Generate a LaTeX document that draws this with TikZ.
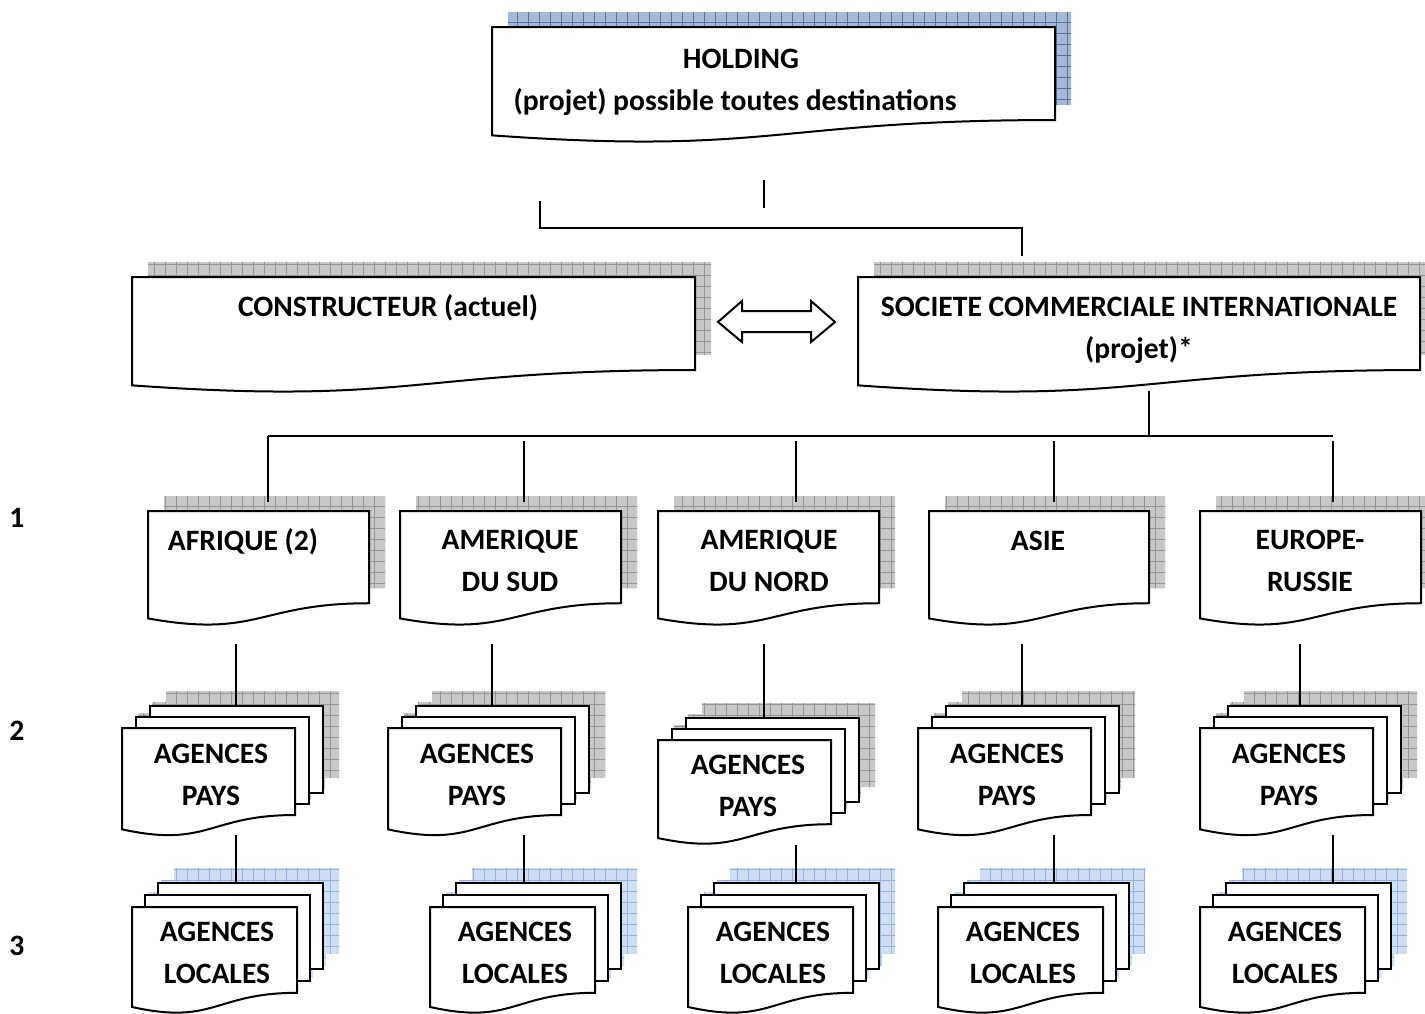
\documentclass[tikz,border=0pt]{standalone}
\usepackage{fontspec}
\setmainfont{Carlito}
\definecolor{shgrey}{RGB}{200,200,200}
\definecolor{shgreyl}{RGB}{150,150,150}
\definecolor{shblue}{RGB}{165,185,215}
\definecolor{shbluel}{RGB}{85,115,165}
\definecolor{shlblue}{RGB}{208,222,243}
\definecolor{shlbluel}{RGB}{150,178,222}
\newcommand\docpath[4]{(#1,#2) -- ({#1+#3},#2) -- ({#1+#3},{#2+0.802*#4}) .. controls ({#1+0.5*#3},{#2+0.802*#4}) and ({#1+0.5*#3},{#2+1.1075*#4}) .. (#1,{#2+0.934*#4}) -- cycle}
\newcommand\boxpath[4]{(#1,#2) -- ({#1+#3},#2) -- ({#1+#3},{#2+#4}) -- (#1,{#2+#4}) -- cycle}
% single document shape with shadow: L T W H shadowcolour
\newcommand\singledoc[5]{%
  \begin{scope}
    \clip[shift={(16,-15)}] \docpath{#1}{#2}{#3}{#4};
    \fill[#5] (#1,#2-20) rectangle (#1+#3+20,#2+#4);
    \draw[#5l, line width=0.5pt, step=5.5pt] (#1,#2-20) grid (#1+#3+20,#2+#4);
  \end{scope}
  \draw[docline] \docpath{#1}{#2}{#3}{#4};
}
% multi document: L T W H dx dy shadowcolour
\newcommand\multidoc[7]{%
  \begin{scope}
    \clip[shift={(16,-15)}] \docpath{#1}{#2}{#3}{#4} \boxpath{#1+#5}{#2-#6}{#3}{0.802*#4} \boxpath{#1+2*#5}{#2-2*#6}{#3}{0.802*#4};
    \fill[#7] (#1,#2-50) rectangle (#1+#3+60,#2+#4);
    \draw[#7l, line width=0.5pt, step=5.5pt] (#1,#2-50) grid (#1+#3+60,#2+#4);
  \end{scope}
  \draw[docline] \boxpath{#1+2*#5}{#2-2*#6}{#3}{0.802*#4};
  \draw[docline] \boxpath{#1+#5}{#2-#6}{#3}{0.802*#4};
  \draw[docline] \docpath{#1}{#2}{#3}{#4};
}
\tikzset{
  docline/.style={draw=black, fill=white, line width=1pt},
  conn/.style={draw=black, line width=1pt},
  txt/.style={font=\fontsize{14.8}{21}\selectfont\bfseries, align=center, inner sep=0pt},
}
\begin{document}
\begin{tikzpicture}[x=0.5pt,y=-0.5pt]
\useasboundingbox[fill=white] (0,0) rectangle (1425,1013);

% ---- top level
\singledoc{492}{27}{563}{116}{shblue}
\node[txt] (hold) at (735,82) {\hspace*{6pt}HOLDING\\(projet) possible toutes destinations};

\singledoc{132}{277}{563}{116}{shgrey}
\node[txt] (constr) at (388,308) {CONSTRUCTEUR (actuel)};

\singledoc{858}{277}{562}{116}{shgrey}
\node[txt] (soc) at (1139,330) {SOCIETE COMMERCIALE INTERNATIONALE\\(projet)*};

% double arrow
\draw[docline] (718,322) -- (742,301) -- (742,311) -- (811,311) -- (811,301) -- (835,322)
  -- (811,342) -- (811,332) -- (742,332) -- (742,342) -- cycle;

% ---- regions
\singledoc{148}{511}{221}{115}{shgrey}
\singledoc{400}{511}{221}{115}{shgrey}
\singledoc{658}{511}{221}{115}{shgrey}
\singledoc{929}{511}{220}{115}{shgrey}
\singledoc{1200}{511}{221}{115}{shgrey}
\node[txt] (afr) at (243,542) {AFRIQUE (2)};
\node[txt] (ams) at (510,561) {AMERIQUE\\DU SUD};
\node[txt] (amn) at (769,561) {AMERIQUE\\DU NORD};
\node[txt] (asi) at (1038,541) {ASIE};
\node[txt] (eur) at (1310,561) {EUROPE-\\RUSSIE};

% ---- agences pays
\multidoc{122}{728}{173}{108.5}{14}{11}{shgrey}
\multidoc{388}{728}{173}{108.5}{14}{11}{shgrey}
\multidoc{658}{740}{173}{105}{14}{11}{shgrey}
\multidoc{918}{728}{173}{108.5}{14}{11}{shgrey}
\multidoc{1200}{728}{173}{108.5}{14}{11}{shgrey}
\node[txt] (p1) at (211,775) {AGENCES\\PAYS};
\node[txt] (p2) at (477,775) {AGENCES\\PAYS};
\node[txt] (p3) at (748,786) {AGENCES\\PAYS};
\node[txt] (p4) at (1007,775) {AGENCES\\PAYS};
\node[txt] (p5) at (1289,775) {AGENCES\\PAYS};

% ---- agences locales
\multidoc{132}{907}{165}{107}{13}{12}{shlblue}
\multidoc{430}{907}{165}{107}{13}{12}{shlblue}
\multidoc{688}{907}{165}{107}{13}{12}{shlblue}
\multidoc{938}{907}{165}{107}{13}{12}{shlblue}
\multidoc{1200}{907}{165}{107}{13}{12}{shlblue}
\node[txt] (l1) at (217,953) {AGENCES\\LOCALES};
\node[txt] (l2) at (515,953) {AGENCES\\LOCALES};
\node[txt] (l3) at (773,953) {AGENCES\\LOCALES};
\node[txt] (l4) at (1023,953) {AGENCES\\LOCALES};
\node[txt] (l5) at (1285,953) {AGENCES\\LOCALES};

% ---- level numbers
\node[txt] (n1) at (17,518) {1};
\node[txt] (n2) at (17,731) {2};
\node[txt] (n3) at (17,946) {3};

% ---- connectors
\coordinate (ha) at (764,180); \coordinate (hb) at (764,208);
\draw[conn] (ha) -- (hb);
\coordinate (ea) at (540,201); \coordinate (em) at (781,228); \coordinate (eb) at (1022,256);
\draw[conn] (ea) |- (em) -| (eb);
\coordinate (sa) at (1149,391); \coordinate (sb) at (1149,437);
\draw[conn] (sa) -- (sb);
\coordinate (busa) at (268,436); \coordinate (busb) at (1333,436);
\draw[conn] (busa) -- (busb);
\coordinate (ra) at (268,502);
\draw[conn] (busa) -- (ra);
\foreach \x in {524,796,1054,1333} {
  \coordinate (rt\x) at (\x,441); \coordinate (rb\x) at (\x,502);
  \draw[conn] (rt\x) -- (rb\x);
}
\foreach \x/\b in {236/706,492/706,764/717,1022/706,1300/706} {
  \coordinate (pt\x) at (\x,644); \coordinate (pb\x) at (\x,\b);
  \draw[conn] (pt\x) -- (pb\x);
}
\foreach \x/\a in {236/835,524/835,796/845,1054/835,1333/835} {
  \coordinate (lt\x) at (\x,\a); \coordinate (lb\x) at (\x,883);
  \draw[conn] (lt\x) -- (lb\x);
}
\end{tikzpicture}
\end{document}
